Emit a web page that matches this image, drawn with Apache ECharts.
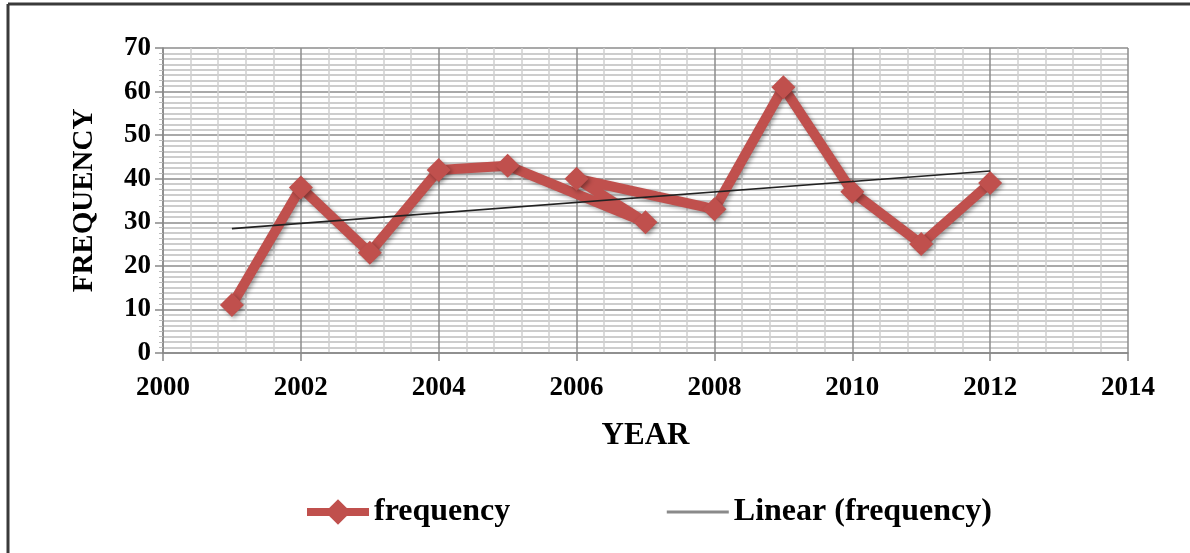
<!DOCTYPE html>
<html>
<head>
<meta charset="utf-8">
<script src="https://cdn.jsdelivr.net/npm/echarts@6/dist/echarts.min.js"></script>
<style>
  html, body { margin: 0; padding: 0; background: #fff; }
  #chart { width: 1190px; height: 553px; }
</style>
</head>
<body>
<div id="chart"></div>
<script>
// Yearly observations, in the order they were recorded
const years = [2001, 2002, 2003, 2004, 2005, 2007, 2006, 2008, 2009, 2010, 2011, 2012];
const frequency = [11, 38, 23, 42, 43, 30, 40, 33, 61, 37, 25, 39];
const seriesNames = ['frequency', 'Linear (frequency)'];
const yearTicks = [2000, 2014, 2];
const freqTicks = [0, 70, 10];

// Least-squares trend over the observations
function linearFit(xs, ys) {
  const n = xs.length;
  const mx = xs.reduce((a, b) => a + b, 0) / n;
  const my = ys.reduce((a, b) => a + b, 0) / n;
  let sxy = 0, sxx = 0;
  for (let i = 0; i < n; i++) {
    sxy += (xs[i] - mx) * (ys[i] - my);
    sxx += (xs[i] - mx) * (xs[i] - mx);
  }
  const slope = sxy / sxx;
  return x => my + slope * (x - mx);
}
const fit = linearFit(years, frequency);
const xMin = Math.min(...years), xMax = Math.max(...years);
const trend = [[xMin, fit(xMin)], [xMax, fit(xMax)]];

const font = '"Liberation Serif", "Times New Roman", serif';
const red = '#C0504D';
const shadow = { shadowColor: 'rgba(0,0,0,0.35)', shadowBlur: 4, shadowOffsetX: 2, shadowOffsetY: 2 };

const chart = echarts.init(document.getElementById('chart'), null, { renderer: 'canvas' });
chart.setOption({
  animation: false,
  backgroundColor: '#ffffff',
  textStyle: { fontFamily: font },
  graphic: [
    { type: 'line', shape: { x1: 8, y1: 4, x2: 1190, y2: 4 }, style: { stroke: '#3a3a3a', lineWidth: 3 } },
    { type: 'line', shape: { x1: 8, y1: 4, x2: 8, y2: 553 }, style: { stroke: '#3a3a3a', lineWidth: 3 } }
  ],
  grid: { left: 163, right: 62, top: 48, bottom: 200, containLabel: false },
  legend: {
    top: 491,
    left: 298,
    itemWidth: 62,
    itemHeight: 32,
    itemGap: 155,
    textStyle: { fontFamily: font, fontWeight: 'bold', fontSize: 32, color: '#000' },
    data: [
      { name: seriesNames[0], lineStyle: { color: red, width: 8 }, itemStyle: { color: red } },
      { name: seriesNames[1], lineStyle: { color: '#8a8a8a', width: 3 },
        itemStyle: { color: 'rgba(0,0,0,0)', borderWidth: 0 } }
    ]
  },
  xAxis: {
    type: 'value',
    min: yearTicks[0], max: yearTicks[1], interval: yearTicks[2],
    name: 'YEAR',
    nameLocation: 'middle',
    nameGap: 67,
    nameTextStyle: { fontFamily: font, fontWeight: 'bold', fontSize: 31, color: '#000' },
    axisLine: { lineStyle: { color: '#888', width: 1.5 } },
    axisTick: { show: true, length: 8, lineStyle: { color: '#888', width: 1.5 } },
    axisLabel: { fontFamily: font, fontWeight: 'bold', fontSize: 27, color: '#000', margin: 22,
                 formatter: v => String(v) },
    splitLine: { show: true, lineStyle: { color: '#8c8c8c', width: 1.5 } },
    minorTick: { show: false, splitNumber: 5 },
    minorSplitLine: { show: true, lineStyle: { color: '#cfcfcf', width: 1.5 } }
  },
  yAxis: {
    type: 'value',
    min: freqTicks[0], max: freqTicks[1], interval: freqTicks[2],
    name: 'FREQUENCY',
    nameLocation: 'middle',
    nameGap: 64,
    nameRotate: 90,
    nameTextStyle: { fontFamily: font, fontWeight: 'bold', fontSize: 29, color: '#000' },
    axisLine: { show: true, lineStyle: { color: '#888', width: 1.5 } },
    axisTick: { show: true, length: 8, lineStyle: { color: '#888', width: 1.5 } },
    axisLabel: { fontFamily: font, fontWeight: 'bold', fontSize: 27, color: '#000', margin: 12 },
    splitLine: { show: true, lineStyle: { color: '#8c8c8c', width: 1.5 } },
    minorTick: { show: true, splitNumber: 8, length: 4, lineStyle: { color: '#bbb' } },
    minorSplitLine: { show: true, lineStyle: { color: '#cdcdcd', width: 1.8 } }
  },
  series: [
    {
      name: seriesNames[0],
      type: 'line',
      data: years.map((y, i) => [y, frequency[i]]),
      symbol: 'diamond',
      symbolSize: 24,
      showSymbol: true,
      lineStyle: Object.assign({ color: red, width: 10, join: 'round' }, shadow),
      itemStyle: Object.assign({ color: red, borderWidth: 0 }, shadow),
      z: 3
    },
    {
      name: seriesNames[1],
      type: 'line',
      data: trend,
      symbol: 'none',
      lineStyle: { color: '#222', width: 1.6 },
      itemStyle: { color: '#8a8a8a' },
      z: 4
    }
  ]
});
</script>
</body>
</html>
